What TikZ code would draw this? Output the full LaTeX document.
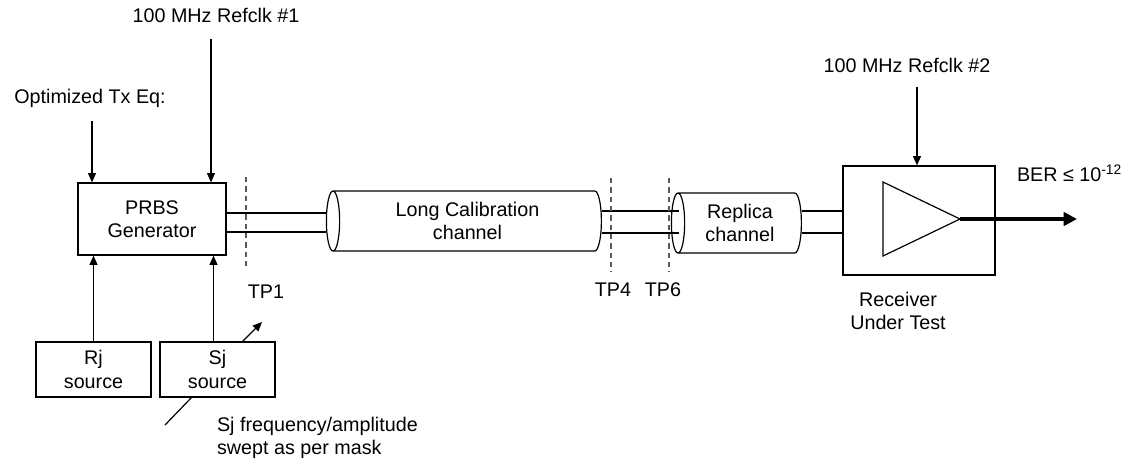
\documentclass[tikz,border=0pt]{standalone}
\usepackage{fontspec}
\setmainfont{Liberation Sans}
\usetikzlibrary{shapes.geometric,arrows.meta,calc}

\begin{document}
\begin{tikzpicture}[x=0.75pt,y=-0.75pt,line width=0.9pt,
  font=\fontsize{14.8}{17.5}\selectfont,
  >={Triangle[length=7pt,width=6pt]},
  tp/.style={dashed, gray!70!black, dash pattern=on 4pt off 3pt}]
 \useasboundingbox (0,0) rectangle (1124,465);
 \begin{scope}[every node/.style={draw, align=center, inner sep=0pt}]
  \node[minimum width=111pt, minimum height=54pt] (prbs) at (152,219) {PRBS\\Generator};
  \node[minimum width=86.25pt, minimum height=41.25pt] (rj) at (93.5,369.5) {Rj\\source};
  \node[minimum width=86.25pt, minimum height=41.25pt] (sj) at (217.5,369.5) {Sj\\source};
  \node[minimum width=114pt, minimum height=81.75pt] (rx) at (919,220.5) {};
 \end{scope}
 \begin{scope}[every node/.style={draw, cylinder, shape border rotate=180, aspect=0.35,
     align=center, inner sep=0pt, minimum width=45pt}]
  \node[minimum height=206.25pt] (long) at (467.5,221) {Long Calibration\\channel};
  \node[minimum height=97.5pt] (rep) at (740,223) {Replica\\channel};
 \end{scope}
 % labels
 \node (eqlabel) at (90,98) {Optimized Tx Eq:};
 \node (clk1label) at (216,15) {100 MHz Refclk \#1};
 \node (clk2label) at (907,65) {100 MHz Refclk \#2};
 \node[anchor=west] (berlabel) at (1012,173) {BER \char"2264{} 10\textsuperscript{-12}};
 \node[align=center] (rxlabel) at (898,311) {Receiver\\Under Test};
 \node[align=left, anchor=west] (sweep) at (212,438) {Sj frequency/amplitude\\swept as per mask};
 \node (tp1) at (266,292) {TP1};
 \node (tp4) at (613,290) {TP4};
 \node (tp6) at (663,290) {TP6};
 % inputs
 \coordinate (eq) at (92,121);
 \coordinate (clk1) at (211,39);
 \coordinate (clk2) at (917,87);
 \path [->] (eq) edge (eq |- prbs.north);
 \path [->] (clk1) edge (clk1 |- prbs.north);
 \path [->] (clk2) edge (clk2 |- rx.north);
 \path [->] (rj.north) edge (rj.north |- prbs.south);
 \path [->] ($(sj.north)+(-4,0)$) edge ($(sj.north |- prbs.south)+(-4,0)$);
 \coordinate (sjarrow) at (262,322);
 \coordinate (sjline) at (165,425);
 \path [->] ($(sj.north east)+(-33,0)$) edge (sjarrow);
 \path [-] ($(sj.south west)+(32,0)$) edge (sjline);
 % wires
 \coordinate (w1) at (0,213);
 \coordinate (w2) at (0,232);
 \coordinate (w3) at (0,211);
 \coordinate (w4) at (0,233);
 \path [-] (prbs.east |- w1) edge (long.west |- w1);
 \path [-] (prbs.east |- w2) edge (long.west |- w2);
 \path [-] (long.east |- w3) edge ($(rep.west |- w3)+(8,0)$);
 \path [-] (long.east |- w4) edge ($(rep.west |- w4)+(8,0)$);
 \path [-] (rep.east |- w3) edge (rx.west |- w3);
 \path [-] (rep.east |- w4) edge (rx.west |- w4);
 % test points
 \coordinate (tp1a) at (246,177);
 \coordinate (tp4a) at (611,178);
 \coordinate (tp6a) at (669,178);
 \draw[tp] (tp1a) -- (tp1a |- 0,269);
 \draw[tp] (tp4a) -- (tp4a |- 0,272);
 \draw[tp] (tp6a) -- (tp6a |- 0,272);
 % amplifier
 \coordinate (amp1) at (883,182);
 \coordinate (amp2) at (883,256);
 \coordinate (tip) at (960,219);
 \coordinate (out) at (1077,219);
 \draw (amp1) -- (tip) -- (amp2) -- cycle;
 \draw[line width=3pt, -{Triangle[length=10pt,width=10pt]}] (tip) -- (out);
\end{tikzpicture}
\end{document}
